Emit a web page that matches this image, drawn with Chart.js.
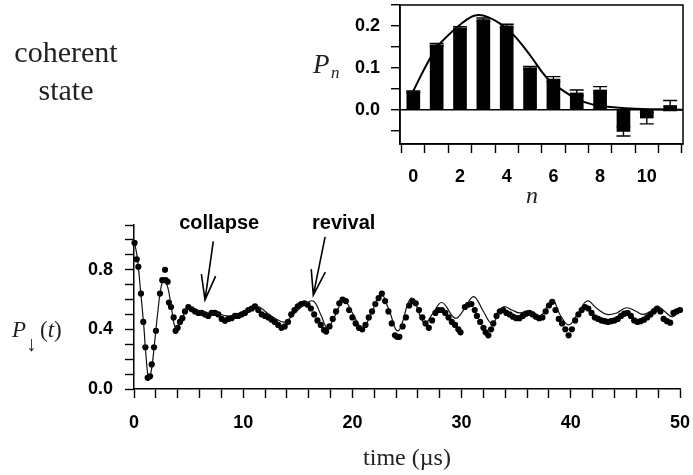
<!DOCTYPE html>
<html>
<head>
<meta charset="utf-8">
<script src="https://cdn.jsdelivr.net/npm/chart.js@4.4.1/dist/chart.umd.min.js"></script>
<style>
  html, body { margin: 0; padding: 0; background: #fff; }
  #wrap { position: relative; width: 693px; height: 475px; }
  #mainChart { position: absolute; left: 0; top: 0; }
  #insetChart { position: absolute; left: 300px; top: 0; }
</style>
</head>
<body>
<div id="wrap">
  <canvas id="mainChart" width="693" height="475"></canvas>
  <canvas id="insetChart" width="393" height="200"></canvas>
</div>
<script>
// measured points (time in µs)
var dotTimes = [0.05, 0.25, 0.40, 0.64, 0.85, 1.04, 1.25, 1.47, 1.62, 1.83, 2.01, 2.38, 2.59, 2.84, 2.90, 3.08, 3.20, 3.39, 3.63, 3.81,
  4.00, 4.21, 4.43, 4.67, 4.97, 5.28, 5.59, 5.89, 6.20, 6.50, 6.80, 7.11, 7.42, 7.72, 8.03, 8.33, 8.64, 8.94, 9.25, 9.55,
  9.86, 10.16, 10.47, 10.78, 11.08, 11.38, 11.69, 12.0, 12.3, 12.6, 12.9, 13.2, 13.5, 13.8, 14.1, 14.4, 14.7, 15.0, 15.3, 15.6,
  15.9, 16.2, 16.5, 16.8, 17.1, 17.4, 17.6, 17.9, 18.2, 18.5, 18.8, 19.1, 19.4, 19.7, 20.0, 20.3, 20.6, 20.9, 21.2, 21.5,
  21.8, 22.1, 22.4, 22.7, 23.0, 23.3, 23.6, 23.9, 24.1, 24.3, 24.6, 24.9, 25.2, 25.5, 25.8, 26.1, 26.4, 26.7, 27.0, 27.3,
  27.6, 27.9, 28.2, 28.5, 28.8, 29.1, 29.4, 29.7, 29.9, 30.3, 30.6, 30.9, 31.2, 31.4, 31.7, 32.0, 32.2, 32.45, 32.7, 32.9,
  33.2, 33.5, 33.8, 34.1, 34.4, 34.7, 35.0, 35.3, 35.6, 35.9, 36.2, 36.5, 36.8, 37.1, 37.4, 37.7, 38.0, 38.3, 38.6, 38.9,
  39.2, 39.5, 39.8, 40.1, 40.4, 40.7, 41.0, 41.3, 41.6, 41.9, 42.2, 42.5, 42.8, 43.1, 43.4, 43.7, 44.0, 44.3, 44.6, 44.9,
  45.2, 45.5, 45.8, 46.1, 46.4, 46.7, 47.0, 47.3, 47.6, 47.9, 48.2, 48.5, 48.8, 49.1, 49.4, 49.7, 50.0];
var dotValues = [0.98, 0.87, 0.82, 0.64, 0.45, 0.28, 0.075, 0.085, 0.165, 0.28, 0.39, 0.64, 0.73, 0.80, 0.73, 0.72, 0.58, 0.55, 0.48, 0.39,
  0.41, 0.45, 0.475, 0.52, 0.55, 0.535, 0.52, 0.51, 0.51, 0.50, 0.49, 0.51, 0.51, 0.50, 0.47, 0.457, 0.47, 0.475, 0.49, 0.49,
  0.50, 0.51, 0.53, 0.54, 0.555, 0.53, 0.50, 0.49, 0.48, 0.465, 0.45, 0.43, 0.41, 0.42, 0.45, 0.50, 0.53, 0.555, 0.57, 0.575,
  0.565, 0.54, 0.50, 0.46, 0.43, 0.395, 0.385, 0.42, 0.47, 0.52, 0.575, 0.60, 0.59, 0.53, 0.48, 0.44, 0.41, 0.40, 0.43, 0.48,
  0.52, 0.57, 0.61, 0.64, 0.59, 0.52, 0.44, 0.36, 0.35, 0.35, 0.42, 0.48, 0.56, 0.59, 0.575, 0.53, 0.48, 0.44, 0.41, 0.46,
  0.51, 0.53, 0.53, 0.51, 0.48, 0.45, 0.43, 0.40, 0.38, 0.55, 0.565, 0.57, 0.53, 0.49, 0.45, 0.41, 0.38, 0.36, 0.40, 0.44,
  0.49, 0.52, 0.53, 0.51, 0.50, 0.485, 0.475, 0.475, 0.49, 0.505, 0.51, 0.50, 0.485, 0.475, 0.48, 0.52, 0.56, 0.585, 0.53, 0.47,
  0.44, 0.40, 0.36, 0.40, 0.46, 0.50, 0.53, 0.55, 0.54, 0.51, 0.48, 0.47, 0.46, 0.455, 0.45, 0.455, 0.46, 0.47, 0.49, 0.505,
  0.51, 0.49, 0.46, 0.45, 0.455, 0.465, 0.48, 0.50, 0.52, 0.54, 0.52, 0.47, 0.455, 0.445, 0.51, 0.52, 0.53];

// theory curve
var fitTimes = [0, 0.3, 0.6, 0.9, 1.1, 1.35, 1.6, 1.9, 2.2, 2.5, 2.8, 3.1, 3.4, 3.8, 4.3, 5.0, 5.6, 6.5, 7.5, 8.5,
  9.5, 10.5, 11.3, 12.2, 13.0, 13.8, 14.6, 15.5, 16.4, 17.1, 17.7, 18.4, 19.2, 20.0, 20.9, 21.7, 22.6, 23.3, 24.2, 25.4,
  26.6, 27.3, 28.2, 29.4, 30.2, 31.1, 32.0, 32.8, 33.8, 34.6, 35.3, 36.3, 37.2, 38.3, 39.0, 39.8, 40.6, 41.5, 42.4, 43.3,
  44.2, 45.1, 46.0, 46.6, 47.3, 47.9, 48.6, 49.3, 50.0];
var fitValues = [1.0, 0.88, 0.66, 0.42, 0.22, 0.07, 0.13, 0.32, 0.53, 0.69, 0.73, 0.68, 0.56, 0.41, 0.46, 0.55, 0.53, 0.51, 0.51, 0.49,
  0.50, 0.53, 0.555, 0.51, 0.47, 0.45, 0.50, 0.56, 0.59, 0.50, 0.41, 0.49, 0.60, 0.51, 0.41, 0.50, 0.64, 0.54, 0.39, 0.61,
  0.44, 0.50, 0.58, 0.475, 0.53, 0.62, 0.52, 0.44, 0.55, 0.53, 0.51, 0.525, 0.49, 0.60, 0.50, 0.43, 0.50, 0.59, 0.54, 0.50,
  0.51, 0.545, 0.52, 0.50, 0.52, 0.555, 0.52, 0.485, 0.53];

// inset: photon number distribution
var nValues = [0, 1, 2, 3, 4, 5, 6, 7, 8, 9, 10, 11];
var pnValues = [0.043, 0.155, 0.195, 0.215, 0.200, 0.100, 0.073, 0.040, 0.047, -0.052, -0.020, 0.010];
var pnErrors = [0.002, 0.003, 0.003, 0.004, 0.004, 0.003, 0.006, 0.007, 0.008, 0.011, 0.014, 0.012];
var curveN = [0, 0.5, 1, 1.5, 2, 2.5, 2.8, 3.2, 3.7, 4.3, 5.0, 5.7, 6.3, 7.0, 7.7, 8.7, 9.5, 10.5, 11.55];
var curveP = [0.045, 0.10, 0.148, 0.178, 0.203, 0.222, 0.226, 0.221, 0.206, 0.178, 0.13, 0.077, 0.05, 0.026, 0.012, 0.005, 0.002, 0.001, 0];

var sans = '"Liberation Sans", Arial, sans-serif';
var serif = '"Liberation Serif", "Times New Roman", serif';

function near(v, step) {
    return Math.abs(v / step - Math.round(v / step)) < 1e-6;
}

// texte et flèches du graphique principal
var mainDecor = {
    id: 'mainDecor',
    afterDraw: function (chart) {
        var c = chart.ctx, xs = chart.scales.x, ys = chart.scales.y;
        c.save();
        c.fillStyle = '#000';
        c.strokeStyle = '#000';

        // "coherent state"
        c.font = '30px ' + serif;
        c.fillStyle = '#222';
        c.textAlign = 'center';
        c.textBaseline = 'alphabetic';
        c.fillText('coherent', 66, 62);
        c.fillText('state', 66, 100);

        // labels collapse / revival
        c.fillStyle = '#000';
        c.font = 'bold 20px ' + sans;
        c.fillText('collapse', xs.getPixelForValue(7.8), ys.getPixelForValue(1.075));
        c.fillText('revival', xs.getPixelForValue(19.2), ys.getPixelForValue(1.075));

        drawArrow(c, xs.getPixelForValue(7.26), ys.getPixelForValue(0.99), xs.getPixelForValue(6.5), ys.getPixelForValue(0.598));
        drawArrow(c, xs.getPixelForValue(17.5), ys.getPixelForValue(1.02), xs.getPixelForValue(16.42), ys.getPixelForValue(0.63));

        // axis titles
        c.fillStyle = '#222';
        c.font = '24px ' + serif;
        c.fillText('time (\u00b5s)', (chart.chartArea.left + chart.chartArea.right) / 2, 465);

        c.textAlign = 'left';
        c.font = 'italic 23px ' + serif;
        c.fillText('P', 12, 337);
        c.font = '21px ' + serif;
        c.fillText('\u2193', 26, 351);
        c.font = '23px ' + serif;
        var x = 40;
        c.fillText('(', x, 337); x += c.measureText('(').width;
        c.font = 'italic 23px ' + serif;
        c.fillText('t', x, 337); x += c.measureText('t').width;
        c.font = '23px ' + serif;
        c.fillText(')', x, 337);

        c.font = 'italic 24px ' + serif;
        c.textAlign = 'center';
        c.fillText('n', 532, 203);
        c.restore();
    }
};

function drawArrow(c, x1, y1, x2, y2) {
    var a = Math.atan2(y2 - y1, x2 - x1);
    var len = 26, spread = 0.28;
    c.lineWidth = 1.6;
    c.beginPath();
    c.moveTo(x1, y1);
    c.lineTo(x2, y2);
    c.moveTo(x2 - len * Math.cos(a - spread), y2 - len * Math.sin(a - spread));
    c.lineTo(x2, y2);
    c.lineTo(x2 - len * Math.cos(a + spread), y2 - len * Math.sin(a + spread));
    c.stroke();
}

// cadre et barres d'erreur de l'encart
var insetDecor = {
    id: 'insetDecor',
    afterDatasetsDraw: function (chart) {
        var c = chart.ctx, xs = chart.scales.x, ys = chart.scales.y, a = chart.chartArea;
        c.save();
        c.strokeStyle = '#000';
        c.lineWidth = 1.4;
        for (var i = 0; i < nValues.length; i++) {
            var px = xs.getPixelForValue(nValues[i]);
            var lo = ys.getPixelForValue(pnValues[i] - pnErrors[i]);
            var hi = ys.getPixelForValue(pnValues[i] + pnErrors[i]);
            c.beginPath();
            c.moveTo(px, lo); c.lineTo(px, hi);
            c.moveTo(px - 7, lo); c.lineTo(px + 7, lo);
            c.moveTo(px - 7, hi); c.lineTo(px + 7, hi);
            c.stroke();
        }
        c.lineWidth = 1.5;
        c.strokeRect(a.left, a.top, a.right - a.left, a.bottom - a.top);

        // label P_n
        c.fillStyle = '#222';
        c.textBaseline = 'alphabetic';
        c.font = 'italic 27px ' + serif;
        c.fillText('P', 13, 73);
        c.font = 'italic 17px ' + serif;
        c.fillText('n', 31, 78);
        c.restore();
    }
};

window.onload = function () {
    graficoPrincipal();
    graficoEncarte();
};

function graficoPrincipal() {
    var ctx = document.getElementById('mainChart').getContext('2d');
    var dots = dotTimes.map(function (t, i) { return { x: t, y: dotValues[i] }; });
    var fit = fitTimes.map(function (t, i) { return { x: t, y: fitValues[i] }; });
    new Chart(ctx, {
        type: 'scatter',
        data: {
            datasets: [
                {
                    type: 'line',
                    data: fit,
                    borderColor: '#111',
                    borderWidth: 1.2,
                    pointRadius: 0,
                    tension: 0.4,
                    fill: false,
                    clip: false
                },
                {
                    data: dots,
                    backgroundColor: '#000',
                    borderColor: '#000',
                    borderWidth: 0,
                    pointRadius: 3.1,
                    clip: false
                }
            ]
        },
        options: {
            responsive: false,
            animation: false,
            layout: { padding: { top: 225, right: 13, left: 0, bottom: 0 } },
            plugins: { legend: { display: false }, tooltip: { enabled: false } },
            scales: {
                x: {
                    type: 'linear',
                    min: 0, max: 50,
                    afterFit: function (s) { s.height = 86; s.paddingLeft = 0; s.paddingRight = 0; },
                    ticks: {
                        stepSize: 2,
                        autoSkip: false,
                        maxRotation: 0,
                        padding: 14,
                        color: '#000',
                        font: { family: sans, size: 18, weight: 'bold' },
                        callback: function (v) { return near(v, 10) ? String(v) : ''; }
                    },
                    grid: { drawOnChartArea: false, tickLength: 9, tickColor: '#000', tickWidth: 1.4 },
                    border: { color: '#000', width: 1.5 }
                },
                y: {
                    min: 0, max: 1.1,
                    afterFit: function (s) { s.width = 134; s.paddingTop = 0; s.paddingBottom = 0; },
                    ticks: {
                        stepSize: 0.1,
                        autoSkip: false,
                        padding: 12,
                        color: '#000',
                        font: { family: sans, size: 18, weight: 'bold' },
                        callback: function (v) { return near(v, 0.4) ? v.toFixed(1) : ''; }
                    },
                    grid: { drawOnChartArea: false, tickLength: 9, tickColor: '#000', tickWidth: 1.4 },
                    border: { color: '#000', width: 1.5 }
                }
            }
        },
        plugins: [mainDecor]
    });
}

function graficoEncarte() {
    var ctx = document.getElementById('insetChart').getContext('2d');
    var bars = nValues.map(function (n, i) { return { x: n, y: pnValues[i] }; });
    var curve = curveN.map(function (n, i) { return { x: n, y: curveP[i] }; });
    new Chart(ctx, {
        type: 'bar',
        data: {
            datasets: [
                {
                    type: 'line',
                    data: curve,
                    borderColor: '#000',
                    borderWidth: 2,
                    pointRadius: 0,
                    tension: 0.4,
                    fill: false
                },
                {
                    data: bars,
                    backgroundColor: '#000',
                    barThickness: 13
                }
            ]
        },
        options: {
            responsive: false,
            animation: false,
            layout: { padding: { top: 5, right: 10, left: 0, bottom: 0 } },
            plugins: { legend: { display: false }, tooltip: { enabled: false } },
            scales: {
                x: {
                    type: 'linear',
                    min: -0.57, max: 11.55,
                    offset: false,
                    afterFit: function (s) { s.height = 56; s.paddingLeft = 0; s.paddingRight = 0; },
                    afterBuildTicks: function (s) { s.ticks = nValues.map(function (v) { return { value: v }; }); },
                    ticks: {
                        autoSkip: false,
                        maxRotation: 0,
                        padding: 13,
                        color: '#000',
                        font: { family: sans, size: 18, weight: 'bold' },
                        callback: function (v) { return v % 2 === 0 ? String(v) : ''; }
                    },
                    grid: { drawOnChartArea: false, tickLength: 9, tickColor: '#000', tickWidth: 1.4 },
                    border: { color: '#000', width: 1.5 }
                },
                y: {
                    min: -0.082, max: 0.25,
                    afterFit: function (s) { s.width = 100; s.paddingTop = 0; s.paddingBottom = 0; },
                    afterBuildTicks: function (s) {
                        var t = [];
                        for (var k = -1; k <= 5; k++) t.push({ value: k * 0.05 });
                        s.ticks = t;
                    },
                    ticks: {
                        autoSkip: false,
                        padding: 11,
                        color: '#000',
                        font: { family: sans, size: 18, weight: 'bold' },
                        callback: function (v) { return near(v, 0.1) ? v.toFixed(1) : ''; }
                    },
                    grid: {
                        drawOnChartArea: true,
                        color: function (c) { return c.tick && Math.abs(c.tick.value) < 1e-9 ? '#000' : 'rgba(0,0,0,0)'; },
                        lineWidth: 1.4,
                        tickLength: 9,
                        tickColor: '#000',
                        tickWidth: 1.4
                    },
                    border: { color: '#000', width: 1.5 }
                }
            }
        },
        plugins: [insetDecor]
    });
}
</script>
</body>
</html>
